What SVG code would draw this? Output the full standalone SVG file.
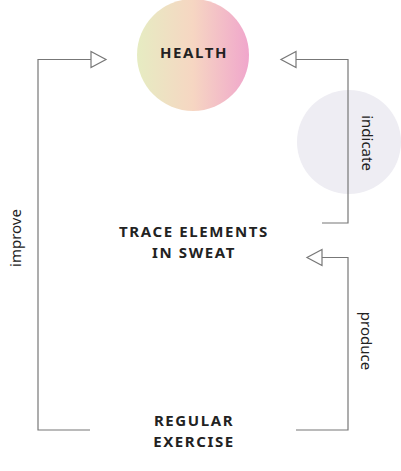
<svg xmlns="http://www.w3.org/2000/svg" width="401" height="471" viewBox="0 0 401 471">
  <style>
    .node { font-family: "Noto Sans", "Liberation Sans", sans-serif; font-weight: bold; font-size: 15px; letter-spacing: 1.6px; fill: #222; text-anchor: middle; }
    .lbl { font-family: "Noto Sans", "Liberation Sans", sans-serif; font-size: 15px; fill: #222; text-anchor: middle; }
    .wire { fill: none; stroke: #777; stroke-width: 1.2; }
    .head { fill: #fff; stroke: #777; stroke-width: 1.2; }
  </style>
  <defs>
    <linearGradient id="healthGrad" x1="0" y1="0" x2="1" y2="0">
      <stop offset="0" stop-color="#e6ecc2"/>
      <stop offset="0.5" stop-color="#f6d6c2"/>
      <stop offset="1" stop-color="#f0a6cc"/>
    </linearGradient>
  </defs>

  <rect width="401" height="471" fill="#fff"/>

  <g id="indicate-bubble">
    <circle cx="349" cy="142" r="52" fill="#eeedf3"/>
  </g>

  <g id="health">
    <circle cx="193" cy="55" r="56" fill="url(#healthGrad)"/>
    <text class="node" x="194" y="58">HEALTH</text>
  </g>

  <g id="trace-elements">
    <text class="node" x="194" y="237">TRACE ELEMENTS</text>
    <text class="node" x="194" y="258">IN SWEAT</text>
  </g>

  <g id="regular-exercise">
    <text class="node" x="194" y="426">REGULAR</text>
    <text class="node" x="194" y="447">EXERCISE</text>
  </g>

  <g id="connectors">
    <!-- exercise improves health -->
    <polyline class="wire" points="90,430 38,430 38,59.5 91,59.5"/>
    <polygon class="head" points="91,51.5 106,59.5 91,67.5"/>
    <!-- trace elements indicate health -->
    <polyline class="wire" points="322,223 348,223 348,59.5 296,59.5"/>
    <polygon class="head" points="296,51.5 281,59.5 296,67.5"/>
    <!-- exercise produces trace elements -->
    <polyline class="wire" points="296,430 348,430 348,257.5 322,257.5"/>
    <polygon class="head" points="322,249.5 307,257.5 322,265.5"/>
  </g>

  <g id="labels">
    <text class="lbl" transform="translate(21,238) rotate(-90)">improve</text>
    <text class="lbl" transform="translate(362,143) rotate(90)">indicate</text>
    <text class="lbl" transform="translate(361,341) rotate(90)">produce</text>
  </g>
</svg>
